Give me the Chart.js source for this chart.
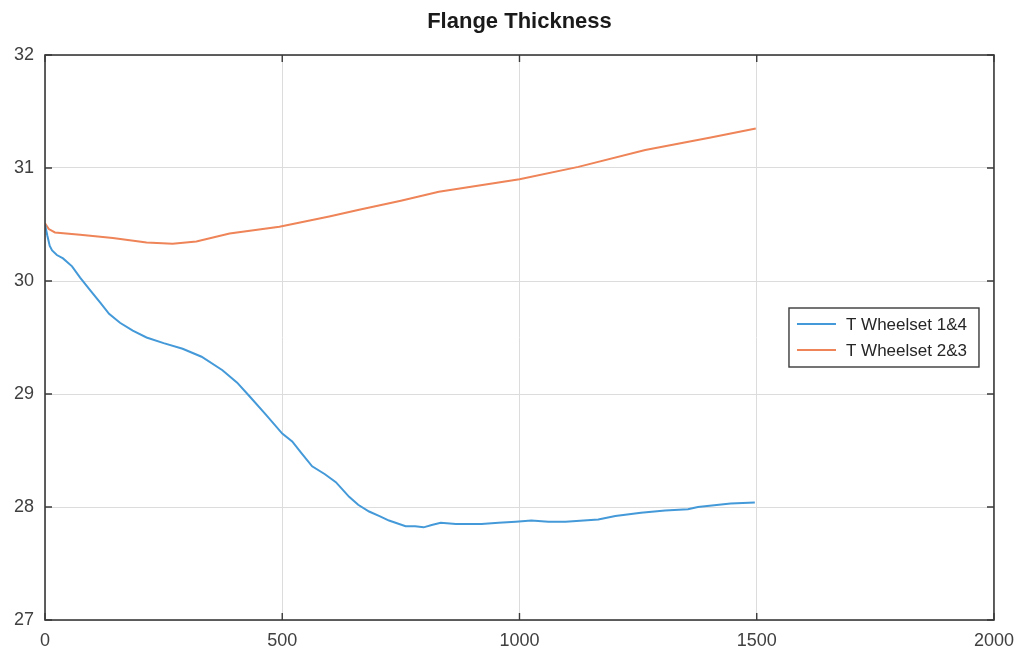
<!DOCTYPE html>
<html>
<head>
<meta charset="utf-8">
<title>Flange Thickness</title>
<script src="https://cdn.jsdelivr.net/npm/chart.js@4"></script>
<style>
  html, body { margin: 0; padding: 0; background: #fff; }
  #wrap { width: 1024px; height: 654px; }
</style>
</head>
<body>
<div id="wrap"><canvas id="chart"></canvas></div>
<script>
// running distance and measured flange thickness per wheelset pair
const kmA = [0, 5, 10, 15, 25, 38, 57, 74, 95, 116, 135, 158, 185, 214, 250, 290, 330, 374, 405, 431,
  465, 500, 521, 540, 563, 590, 613, 641, 660, 683, 705, 725, 760, 780, 798, 815, 834, 866, 920, 956,
  992, 1025, 1061, 1097, 1166, 1202, 1256, 1307, 1355, 1376, 1445, 1496];
const thickA = [30.50, 30.40, 30.31, 30.27, 30.23, 30.20, 30.13, 30.03, 29.92, 29.81, 29.71, 29.63, 29.56,
  29.50, 29.45, 29.40, 29.33, 29.21, 29.10, 28.98, 28.82, 28.65, 28.58, 28.48, 28.36, 28.29, 28.22, 28.09,
  28.02, 27.96, 27.92, 27.88, 27.83, 27.83, 27.82, 27.84, 27.86, 27.85, 27.85, 27.86, 27.87, 27.88, 27.87,
  27.87, 27.89, 27.92, 27.95, 27.97, 27.98, 28.00, 28.03, 28.04];

const kmB = [0, 8, 21, 74, 143, 214, 269, 319, 389, 494, 599, 662, 750, 830, 1000, 1124, 1265, 1403, 1498];
const thickB = [30.51, 30.46, 30.43, 30.41, 30.38, 30.34, 30.33, 30.35, 30.42, 30.48, 30.57, 30.63,
  30.71, 30.79, 30.90, 31.01, 31.16, 31.27, 31.35];

const seriesNames = ["T Wheelset 1&4", "T Wheelset 2&3"];
const seriesColors = ["#4499d8", "#ee8458"];
const xTicks = [0, 500, 1000, 1500, 2000];
const yTicks = [27, 28, 29, 30, 31, 32];

const boxColor = "#3a3a3a";
const fontFamily = "'Liberation Sans', Arial, sans-serif";

// axis box with inward ticks, title and legend inside the plot
const framePlugin = {
  id: "frame",
  afterDraw(chart) {
    const ctx = chart.ctx;
    const a = chart.chartArea;
    const xs = chart.scales.x;
    const ys = chart.scales.y;
    ctx.save();
    ctx.strokeStyle = boxColor;
    ctx.lineWidth = 1.6;
    ctx.strokeRect(a.left, a.top, a.right - a.left, a.bottom - a.top);

    ctx.lineWidth = 1.4;
    ctx.beginPath();
    xTicks.forEach(v => {
      const px = xs.getPixelForValue(v);
      ctx.moveTo(px, a.bottom); ctx.lineTo(px, a.bottom - 7);
      ctx.moveTo(px, a.top); ctx.lineTo(px, a.top + 7);
    });
    yTicks.forEach(v => {
      const py = ys.getPixelForValue(v);
      ctx.moveTo(a.left, py); ctx.lineTo(a.left + 7, py);
      ctx.moveTo(a.right, py); ctx.lineTo(a.right - 7, py);
    });
    ctx.stroke();

    // title
    ctx.fillStyle = "#1a1a1a";
    ctx.font = "bold 22px " + fontFamily;
    ctx.textAlign = "center";
    ctx.textBaseline = "middle";
    ctx.fillText("Flange Thickness", (a.left + a.right) / 2, 22);

    // legend
    const w = 190, h = 59;
    const lx = a.right - 15 - w;
    const ly = (a.top + a.bottom) / 2 - h / 2;
    ctx.fillStyle = "#fff";
    ctx.fillRect(lx, ly, w, h);
    ctx.strokeStyle = boxColor;
    ctx.lineWidth = 1.4;
    ctx.strokeRect(lx, ly, w, h);
    ctx.font = "17px " + fontFamily;
    ctx.textAlign = "left";
    chart.data.datasets.forEach((ds, i) => {
      const y = ly + 16 + i * 26;
      ctx.strokeStyle = ds.borderColor;
      ctx.lineWidth = 2;
      ctx.beginPath();
      ctx.moveTo(lx + 8, y); ctx.lineTo(lx + 47, y);
      ctx.stroke();
      ctx.fillStyle = "#262626";
      ctx.fillText(ds.label, lx + 57, y + 1);
    });
    ctx.restore();
  }
};

new Chart(document.getElementById("chart"), {
  type: "line",
  data: {
    datasets: [
      {
        label: seriesNames[0],
        data: kmA.map((k, i) => ({ x: k, y: thickA[i] })),
        borderColor: seriesColors[0],
        borderWidth: 2,
        pointRadius: 0,
        tension: 0,
      },
      {
        label: seriesNames[1],
        data: kmB.map((k, i) => ({ x: k, y: thickB[i] })),
        borderColor: seriesColors[1],
        borderWidth: 2,
        pointRadius: 0,
        tension: 0,
      },
    ],
  },
  options: {
    responsive: true,
    maintainAspectRatio: false,
    animation: false,
    layout: { padding: { top: 55, right: 21, left: 0, bottom: 0 } },
    plugins: {
      legend: { display: false },
      title: { display: false },
      tooltip: { enabled: false },
    },
    scales: {
      x: {
        type: "linear",
        min: 0,
        max: 2000,
        afterBuildTicks: s => { s.ticks = xTicks.map(v => ({ value: v })); },
        afterFit: s => { s.height = 34; },
        grid: { color: "#dcdcdc", drawTicks: false },
        border: { display: false },
        ticks: {
          color: "#404040",
          padding: 10,
          maxRotation: 0,
          callback: v => String(v),
          font: { family: fontFamily, size: 18 },
        },
      },
      y: {
        type: "linear",
        min: 27,
        max: 32,
        afterBuildTicks: s => { s.ticks = yTicks.map(v => ({ value: v })); },
        afterFit: s => { s.width = 45; },
        grid: { color: "#dcdcdc", drawTicks: false },
        border: { display: false },
        ticks: {
          color: "#404040",
          padding: 11,
          callback: v => String(v),
          font: { family: fontFamily, size: 18 },
        },
      },
    },
  },
  plugins: [framePlugin],
});
</script>
</body>
</html>
